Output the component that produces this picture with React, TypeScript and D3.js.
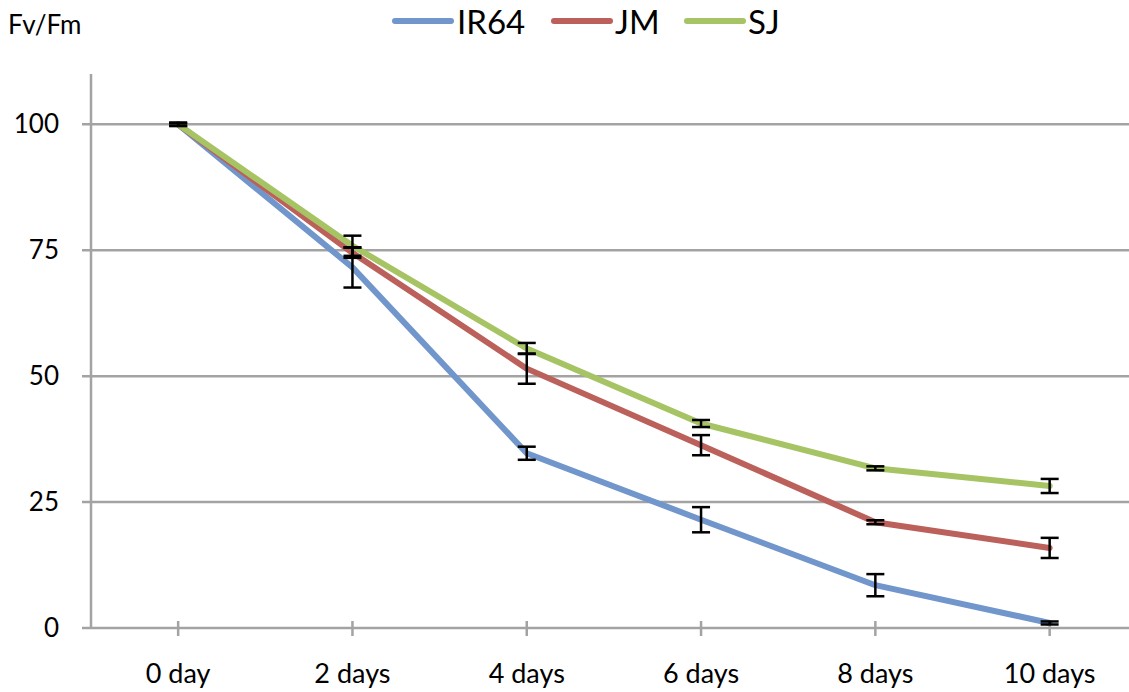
import React from "react";
import * as d3 from "d3";

const categories = ["0 day", "2 days", "4 days", "6 days", "8 days", "10 days"];
const seriesNames = ["IR64", "JM", "SJ"];
const ir64 = [100, 71.6, 34.7, 21.5, 8.5, 1.0];
const jm = [100, 74.5, 51.5, 36.3, 21.0, 15.9];
const sj = [100, 75.9, 55.5, 40.6, 31.7, 28.2];
const ir64Err = [0.3, 4.0, 1.3, 2.5, 2.2, 0.3];
const jmErr = [0.3, 1.0, 3.0, 2.0, 0.4, 2.0];
const sjErr = [0.3, 2.0, 1.1, 0.7, 0.4, 1.4];
const yTicks = [0, 25, 50, 75, 100];
const colors = ["#7196cb", "#bb605a", "#a6c464"];

const W = 1129;
const H = 692;
const left = 91;
const bottom = 628;
const top = 74;
const bandW = 174.3;

export default function App() {
  const x = d3
    .scaleBand<string>()
    .domain(categories)
    .range([left, left + bandW * categories.length]);
  const y = d3.scaleLinear().domain([0, 110]).range([bottom, top]);
  const cx = (c: string) => (x(c) as number) + x.bandwidth() / 2;
  const values = [ir64, jm, sj];
  const errs = [ir64Err, jmErr, sjErr];
  const line = d3
    .line<number>()
    .x((_, i) => cx(categories[i]))
    .y((v) => y(v));
  const font = "Lato, 'Open Sans', sans-serif";
  const grid = "#a3a3a3";
  const legendX = [395, 554, 687];
  const legendTextX = [457, 615, 748];
  return (
    <svg
      width={W}
      height={H}
      style={{ position: "absolute", left: 0, top: 0, background: "#fff" }}
      fontFamily={font}
    >
      {yTicks.map((t) => (
        <g key={t}>
          <line x1={82} x2={W} y1={y(t)} y2={y(t)} stroke={grid} strokeWidth={2.5} />
          <text x={59} y={y(t)} dy="0.35em" textAnchor="end" fontSize={26} fill="#000">
            {t}
          </text>
        </g>
      ))}
      <line x1={left} x2={left} y1={y(110)} y2={bottom} stroke={grid} strokeWidth={2.5} />
      {categories.map((c) => (
        <g key={c}>
          <line x1={cx(c)} x2={cx(c)} y1={bottom - 7} y2={bottom + 8} stroke={grid} strokeWidth={2.5} />
          <text x={cx(c)} y={683} textAnchor="middle" fontSize={27} fill="#000">
            {c}
          </text>
        </g>
      ))}
      {values.map((vals, si) => (
        <path
          key={si}
          d={line(vals) || ""}
          fill="none"
          stroke={colors[si]}
          strokeWidth={6}
          strokeLinejoin="round"
          strokeLinecap="round"
        />
      ))}
      {values.map((vals, si) =>
        vals.map((v, i) => {
          const xc = cx(categories[i]);
          const e = errs[si][i];
          const y1 = y(v + e);
          const y2 = y(v - e);
          return (
            <g key={`${si}-${i}`} stroke="#000" strokeWidth={2.5}>
              <line x1={xc} x2={xc} y1={y1} y2={y2} />
              <line x1={xc - 9} x2={xc + 9} y1={y1} y2={y1} />
              <line x1={xc - 9} x2={xc + 9} y1={y2} y2={y2} />
            </g>
          );
        })
      )}
      <text x={8} y={34} fontSize={26} fill="#000">
        Fv/Fm
      </text>
      {seriesNames.map((n, i) => (
        <g key={n}>
          <line
            x1={legendX[i]}
            x2={legendX[i] + 56}
            y1={21}
            y2={21}
            stroke={colors[i]}
            strokeWidth={6}
            strokeLinecap="round"
          />
          <text x={legendTextX[i]} y={34} fontSize={33} fill="#000">
            {n}
          </text>
        </g>
      ))}
    </svg>
  );
}
